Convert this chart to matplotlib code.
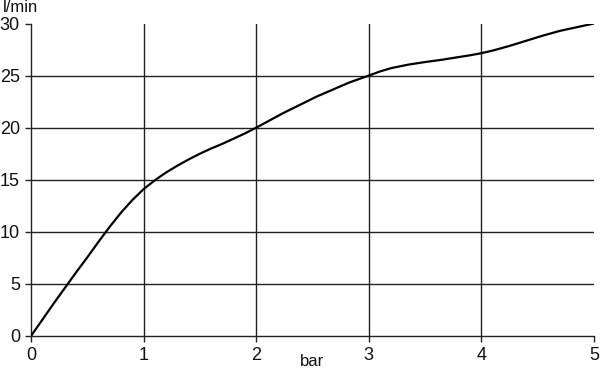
import matplotlib
matplotlib.use("Agg")
import matplotlib.pyplot as plt

# flow curve: pressure (bar) vs flow (l/min)
pressure = [0, 0.1, 0.2, 0.3, 0.4, 0.5, 0.6, 0.7, 0.8, 0.9, 1.0, 1.1, 1.2, 1.3, 1.4,
            1.5, 1.6, 1.7, 1.8, 1.9, 2.0, 2.24, 2.54, 2.83, 3.0, 3.1, 3.2, 3.35, 3.5,
            3.65, 3.8, 3.9, 4.0, 4.1, 4.25, 4.4, 4.55, 4.7, 4.85, 5.0]
flow = [0, 1.55, 3.1, 4.6, 6.1, 7.55, 9.05, 10.5, 11.85, 13.05, 14.1, 14.95, 15.7,
        16.35, 16.95, 17.5, 18.0, 18.45, 18.95, 19.45, 20.0, 21.4, 23.0, 24.35, 25.0,
        25.4, 25.72, 26.05, 26.3, 26.52, 26.78, 26.95, 27.15, 27.4, 27.85, 28.35,
        28.85, 29.3, 29.65, 30.0]

x_ticks = [0, 1, 2, 3, 4, 5]
y_ticks = [0, 5, 10, 15, 20, 25, 30]
x_label = "bar"
y_label = "l/min"

plt.rcParams["font.family"] = ["Liberation Sans", "DejaVu Sans"]

fig = plt.figure(figsize=(6, 3.69), dpi=100)
ax = fig.add_axes([31 / 600, 33 / 369, 563 / 600, 312.5 / 369])

# grid lines (inner ones only)
for xv in x_ticks[1:-1]:
    ax.axvline(xv, color="#222222", lw=1.0, zorder=1)
for yv in y_ticks[1:-1]:
    ax.axhline(yv, color="#222222", lw=1.0, zorder=1)

ax.plot(pressure, flow, color="black", lw=1.6, zorder=3,
        solid_capstyle="round", solid_joinstyle="round")

ax.set_xlim(0, 5)
ax.set_ylim(0, 30)
ax.set_xticks(x_ticks)
ax.set_yticks(y_ticks)
ax.tick_params(direction="out", length=4, width=1.0, color="#222222",
               labelsize=13, labelcolor="#111111", pad=4)

for s in ["top", "right"]:
    ax.spines[s].set_visible(False)
for s in ["left", "bottom"]:
    ax.spines[s].set_color("#222222")
    ax.spines[s].set_linewidth(1.0)

ax.set_xlabel(x_label, fontsize=12, color="#111111")
ax.xaxis.set_label_coords(0.5, -0.096)
ax.xaxis.label.set_va("baseline")

fig.text(3 / 600, (369 - 12) / 369, y_label, fontsize=12, color="#111111",
         ha="left", va="baseline")

fig.savefig("out.png", dpi=100)
